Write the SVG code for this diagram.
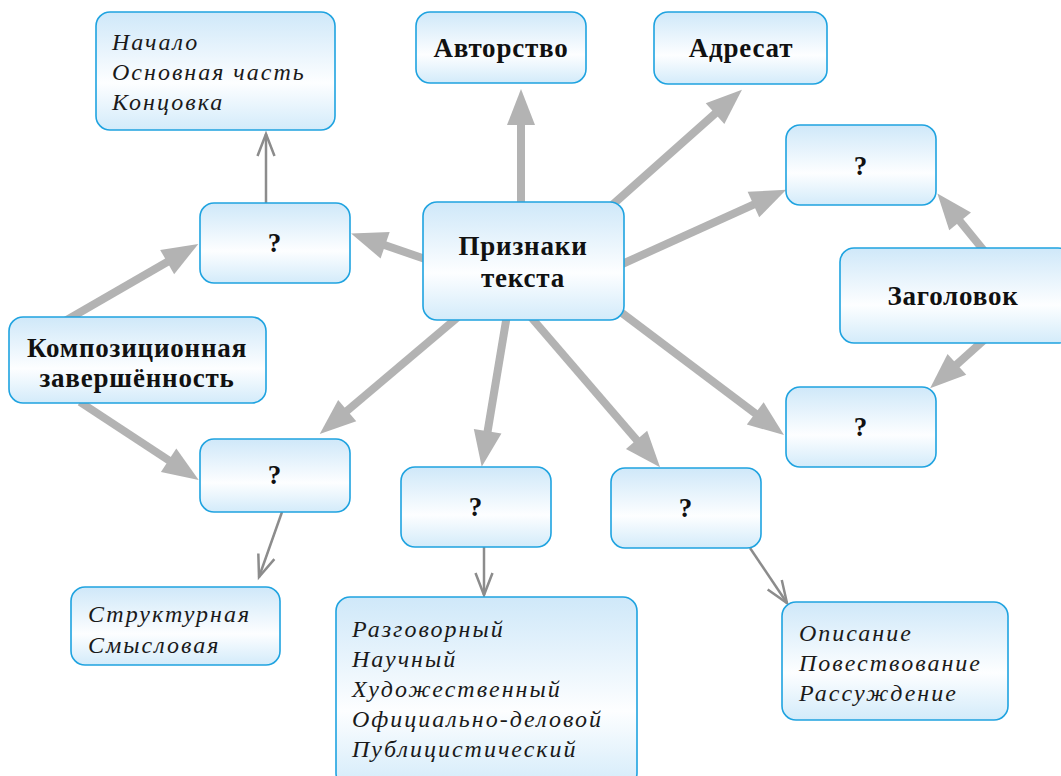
<svg xmlns="http://www.w3.org/2000/svg" width="1061" height="776" viewBox="0 0 1061 776">
<defs>
<linearGradient id="g" x1="0" y1="0" x2="0" y2="1">
<stop offset="0" stop-color="#cfe8f9"/>
<stop offset="0.6" stop-color="#fdfeff"/>
<stop offset="1" stop-color="#d3ebfa"/>
</linearGradient>
<marker id="big" markerUnits="userSpaceOnUse" markerWidth="36" markerHeight="28" viewBox="0 0 36 28" refX="16" refY="14" orient="auto" overflow="visible">
<path d="M0,0 L36,14 L0,28 z" fill="#b3b3b3"/>
</marker>
<marker id="thin" markerUnits="userSpaceOnUse" markerWidth="24" markerHeight="20" viewBox="0 0 24 20" refX="22" refY="9" orient="auto" overflow="visible">
<path d="M0,0.5 L22,9 L0,17.5" fill="none" stroke="#8c8c8c" stroke-width="2.5"/>
</marker>
</defs>
<style>
.box{fill:url(#g);stroke:#1fa3e0;stroke-width:1.6}
.b{font-family:"Liberation Serif","DejaVu Serif",serif;font-weight:bold;font-size:27px;fill:#111;text-anchor:middle;letter-spacing:0.8px}
.i{font-family:"Liberation Serif","DejaVu Serif",serif;font-style:italic;font-size:24px;fill:#1a1a1a;letter-spacing:2px}
.thick{stroke:#b3b3b3;stroke-width:8;fill:none;marker-end:url(#big)}
.thinl{stroke:#8c8c8c;stroke-width:2.5;fill:none;marker-end:url(#thin)}
</style>
<rect width="1061" height="776" fill="#fff"/>
<g id="connectors">
<line class="thick" x1="521" y1="205" x2="521" y2="109"/>
<line class="thick" x1="610" y1="207" x2="727" y2="103"/>
<line class="thick" x1="620" y1="265" x2="768" y2="198"/>
<line class="thick" x1="428" y1="260" x2="370" y2="240"/>
<line class="thick" x1="458" y1="317" x2="335" y2="421"/>
<line class="thick" x1="507" y1="315" x2="485" y2="447"/>
<line class="thick" x1="530" y1="316" x2="647" y2="452"/>
<line class="thick" x1="618" y1="310" x2="768" y2="423"/>
<line class="thick" x1="65" y1="321" x2="181" y2="254"/>
<line class="thick" x1="80" y1="402" x2="182" y2="469"/>
<line class="thick" x1="985" y1="252" x2="950" y2="209"/>
<line class="thick" x1="984" y1="340" x2="945" y2="375"/>
<line class="thinl" x1="266" y1="203" x2="266" y2="134"/>
<line class="thinl" x1="282" y1="512" x2="259" y2="577"/>
<line class="thinl" x1="484" y1="547" x2="484" y2="595"/>
<line class="thinl" x1="750" y1="548" x2="787" y2="603"/>
</g>
<g id="n-list-top">
<rect class="box" x="96" y="12" width="239" height="118" rx="14"/>
<text class="i" x="112" y="50">Начало</text>
<text class="i" x="112" y="80">Основная часть</text>
<text class="i" x="112" y="110">Концовка</text>
</g>
<g id="n-avtorstvo">
<rect class="box" x="416" y="12" width="170" height="71" rx="14"/>
<text class="b" x="501" y="57">Авторство</text>
</g>
<g id="n-adresat">
<rect class="box" x="654" y="12" width="173" height="72" rx="14"/>
<text class="b" x="741" y="57">Адресат</text>
</g>
<g id="n-q-topright">
<rect class="box" x="786" y="125" width="150" height="80" rx="14"/>
<text class="b" x="861" y="175">?</text>
</g>
<g id="n-zagolovok">
<rect class="box" x="840" y="248" width="232" height="95" rx="14"/>
<text class="b" x="953" y="305">Заголовок</text>
</g>
<g id="n-q-botright">
<rect class="box" x="786" y="387" width="150" height="80" rx="14"/>
<text class="b" x="861" y="436">?</text>
</g>
<g id="n-priznaki">
<rect class="box" x="423" y="202" width="201" height="118" rx="14"/>
<text class="b" x="523" y="255">Признаки</text>
<text class="b" x="523" y="287">текста</text>
</g>
<g id="n-q-left">
<rect class="box" x="200" y="203" width="150" height="80" rx="14"/>
<text class="b" x="275" y="252">?</text>
</g>
<g id="n-kompoz">
<rect class="box" x="9" y="317" width="257" height="86" rx="14"/>
<text class="b" x="137" y="357">Композиционная</text>
<text class="b" x="137" y="387">завершённость</text>
</g>
<g id="n-q-lowleft">
<rect class="box" x="200" y="439" width="150" height="73" rx="14"/>
<text class="b" x="275" y="484">?</text>
</g>
<g id="n-q-mid">
<rect class="box" x="401" y="467" width="150" height="80" rx="14"/>
<text class="b" x="476" y="516">?</text>
</g>
<g id="n-q-midright">
<rect class="box" x="611" y="468" width="150" height="80" rx="14"/>
<text class="b" x="686" y="517">?</text>
</g>
<g id="n-list-struct">
<rect class="box" x="71" y="587" width="209" height="78" rx="14"/>
<text class="i" x="88" y="622">Структурная</text>
<text class="i" x="88" y="653">Смысловая</text>
</g>
<g id="n-list-styles">
<rect class="box" x="336" y="597" width="301" height="190" rx="14"/>
<text class="i" x="352" y="637">Разговорный</text>
<text class="i" x="352" y="667">Научный</text>
<text class="i" x="352" y="697">Художественный</text>
<text class="i" x="352" y="727">Официально-деловой</text>
<text class="i" x="352" y="757">Публицистический</text>
</g>
<g id="n-list-types">
<rect class="box" x="782" y="602" width="226" height="118" rx="14"/>
<text class="i" x="799" y="641">Описание</text>
<text class="i" x="799" y="671">Повествование</text>
<text class="i" x="799" y="701">Рассуждение</text>
</g>
</svg>
